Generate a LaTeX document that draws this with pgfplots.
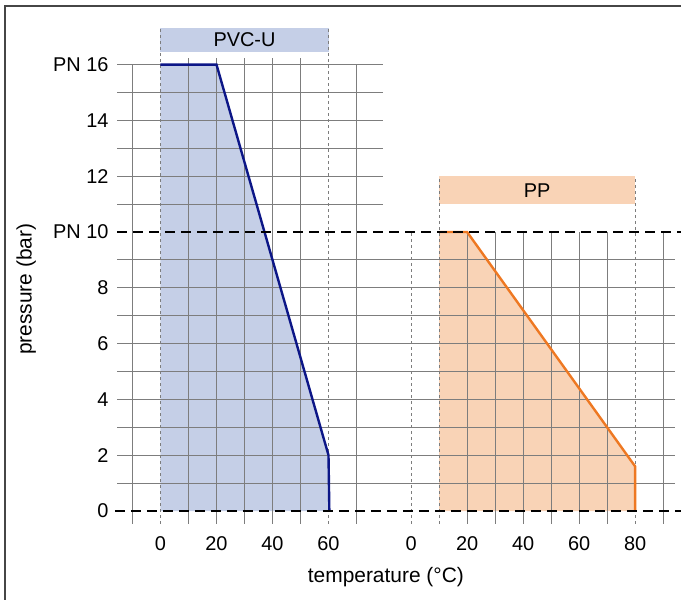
\documentclass[border=0pt]{standalone}
\usepackage{fontspec}
\setmainfont{Liberation Sans}
\usepackage{pgfplots}
\pgfplotsset{compat=1.18}

\definecolor{pvcfill}{RGB}{197,207,231}
\definecolor{pvcline}{RGB}{12,22,135}
\definecolor{ppfill}{RGB}{249,211,182}
\definecolor{ppline}{RGB}{238,120,34}
\definecolor{gridc}{RGB}{125,125,125}
\definecolor{framec}{RGB}{70,70,70}

\begin{document}
\begin{tikzpicture}
\begin{axis}[
	x=2.8bp, y=27.9bp,
	xmin=-15.5, xmax=172,
	ymin=-0.45, ymax=16.3,
	clip=false,
	axis x line*=bottom, axis y line*=left,
	axis line style={draw=none},
	major tick length=0pt,
	/pgf/number format/assume math mode=true,
	tick label style={font=\fontsize{20}{24}\selectfont},
	xtick={0,20,40,60,89.5,109.5,129.5,149.5,169.5},
	xticklabels={0,20,40,60,0,20,40,60,80},
	ytick={0,2,4,6,8,10,12,14,16},
	yticklabels={0,2,4,6,8,PN 10,12,14,PN 16},
	yticklabel style={xshift=-5bp},
	xticklabel style={yshift=-9.5bp},
	xlabel={temperature (°C)},
	ylabel={pressure (bar)},
	label style={font=\fontsize{21}{25}\selectfont},
	xlabel style={at={(axis cs:80.5,-2.37)}, anchor=center},
	ylabel style={at={(axis cs:-48,7.95)}, anchor=center, rotate=0},
]
\coordinate (O) at (axis cs:0,0);

% filled areas (PP temperatures are shifted onto the right half of the axis)
\addplot[draw=none, fill=pvcfill] coordinates {(0,0) (0,16) (20,16) (60,2) (60.3,0)} -- cycle;
\addplot[draw=none, fill=ppfill] table[x expr=\thisrowno{0}+89.5, y index=1] {
10 0
10 10
20 10
80 1.6
80 0
} -- cycle;

% grid, left part (y 11..16) and full width (y 1..9)
\pgfplotsinvokeforeach{11,12,13,14,15,16}{
	\draw[gridc, line width=0.9bp] (axis cs:-15.5,#1) -- (axis cs:79.5,#1);
}
\pgfplotsinvokeforeach{1,2,3,4,5,6,7,8,9}{
	\draw[gridc, line width=0.9bp] (axis cs:-15.5,#1) -- (axis cs:183.8,#1);
}
\pgfplotsinvokeforeach{10,20,30,40,50}{
	\draw[gridc, line width=0.9bp] (axis cs:#1,-0.45) -- (axis cs:#1,16.22);
}
\pgfplotsinvokeforeach{-10,70}{
	\draw[gridc, line width=0.9bp] (axis cs:#1,-0.45) -- (axis cs:#1,16);
}
\pgfplotsinvokeforeach{109.5,119.5,129.5,139.5,149.5,159.5,179.5}{
	\draw[gridc, line width=0.9bp] (axis cs:#1,-0.45) -- (axis cs:#1,10);
}

% label boxes
\fill[pvcfill] (axis cs:0,16.45) rectangle (axis cs:60,17.3);
\node[font=\fontsize{20}{24}\selectfont] at (axis cs:30,16.88) {PVC-U};
\fill[ppfill] (axis cs:99.5,11) rectangle (axis cs:169.5,12);
\node[font=\fontsize{20}{24}\selectfont] at (axis cs:134.5,11.5) {PP};

% dashed range markers
\draw[gridc, line width=0.9bp, dash pattern=on 3bp off 3bp] (axis cs:0,-0.45) -- (axis cs:0,17.35);
\draw[gridc, line width=0.9bp, dash pattern=on 3bp off 3bp] (axis cs:60,-0.45) -- (axis cs:60,17.35);
\draw[gridc, line width=0.9bp, dash pattern=on 3bp off 3bp] (axis cs:89.5,-0.45) -- (axis cs:89.5,10);
\draw[gridc, line width=0.9bp, dash pattern=on 3bp off 3bp] (axis cs:99.5,-0.45) -- (axis cs:99.5,12);
\draw[gridc, line width=0.9bp, dash pattern=on 3bp off 3bp] (axis cs:169.5,-0.45) -- (axis cs:169.5,12);

% pressure curves
\addplot[pvcline, line width=2.4bp] coordinates {(0,16) (20,16) (60,2) (60.3,0)};
\addplot[ppline, line width=2.4bp] table[x expr=\thisrowno{0}+89.5, y index=1] {
10 10
20 10
80 1.6
80 0
};

% nominal pressure lines
\draw[black, line width=1.9bp, dash pattern=on 10bp off 6bp] (axis cs:-16.3,0) -- (axis cs:186,0);
\draw[black, line width=1.9bp, dash pattern=on 10bp off 6bp] (axis cs:-15.5,10) -- (axis cs:186,10);
\end{axis}

% frame and page size
\draw[framec, line width=1.6bp] ([shift={(-155.5bp,-89bp)}]O) -- ([shift={(-155.5bp,505bp)}]O) -- ([shift={(520.5bp,505bp)}]O);
\pgfresetboundingbox
\path[use as bounding box] ([shift={(-160.5bp,-89bp)}]O) rectangle ([shift={(520.5bp,511bp)}]O);
\end{tikzpicture}
\end{document}
